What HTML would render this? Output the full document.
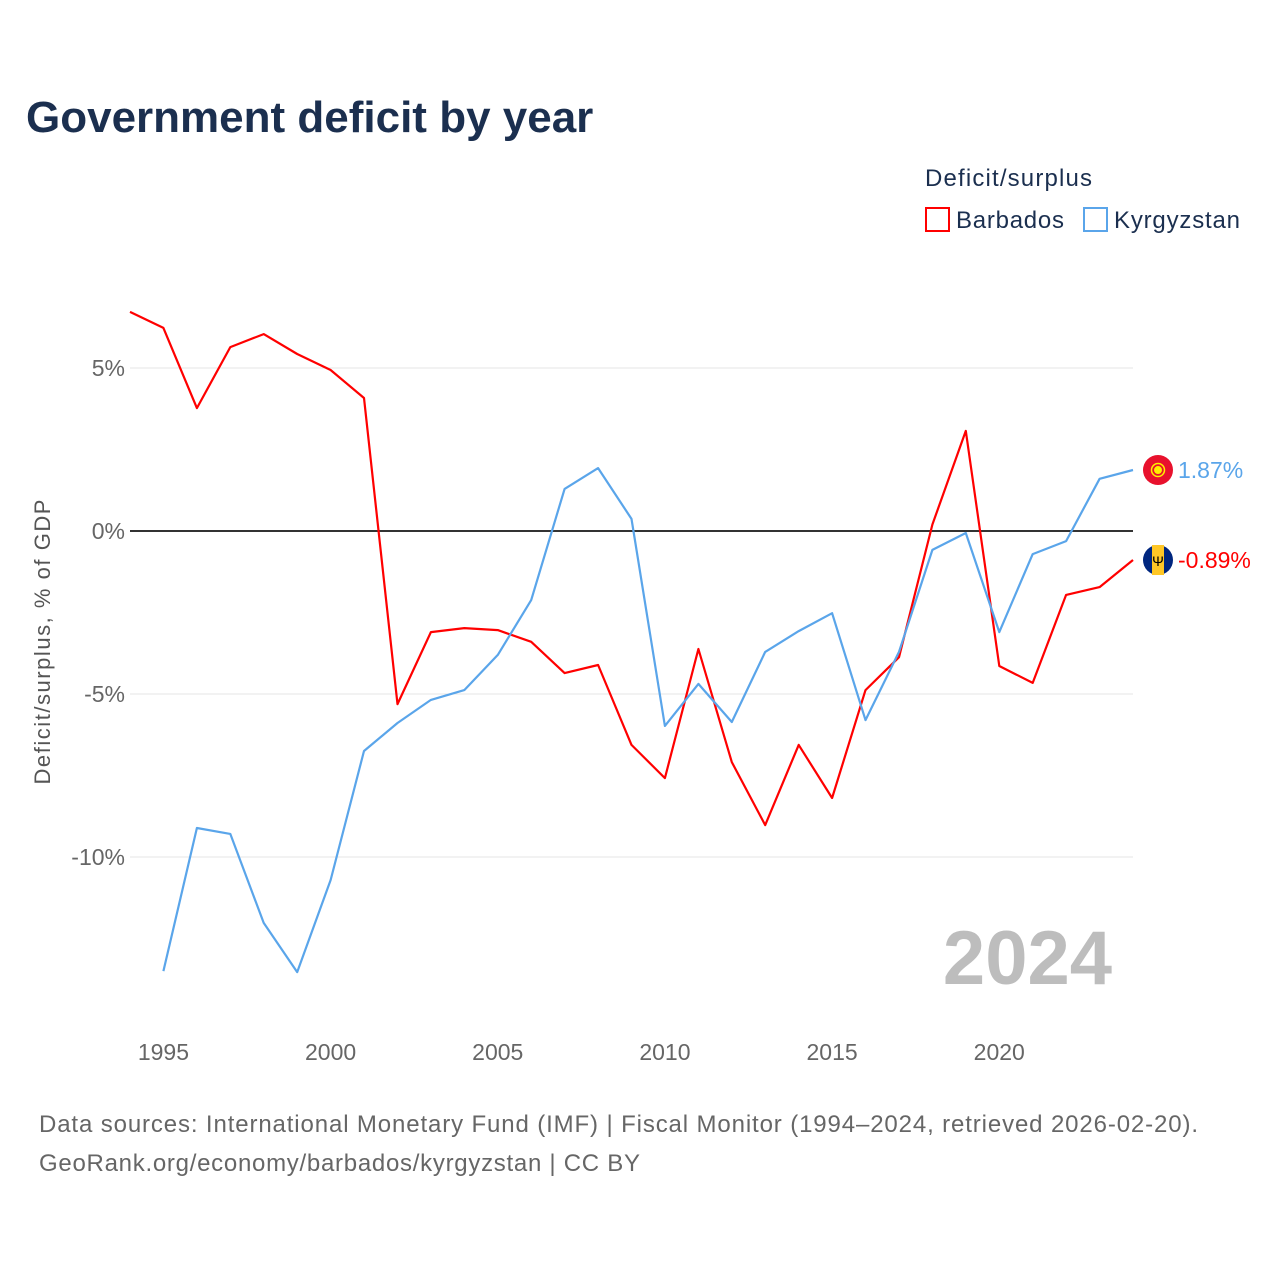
<!DOCTYPE html>
<html><head><meta charset="utf-8"><style>
body{margin:0;background:#fff;font-family:"Liberation Sans",sans-serif;}
svg text{font-family:"Liberation Sans",sans-serif;}
</style></head><body>
<svg width="1280" height="1280" viewBox="0 0 1280 1280" xmlns="http://www.w3.org/2000/svg">
<rect width="1280" height="1280" fill="#fff"/>
<text x="26" y="132" font-size="44" font-weight="bold" fill="#1b2f4f">Government deficit by year</text>
<text x="925" y="186" font-size="24" fill="#1b2f4f" textLength="167">Deficit/surplus</text>
<g><rect x="926" y="208" width="23" height="23" fill="none" stroke="#ff0000" stroke-width="2"/><text x="956" y="228" font-size="24" fill="#1b2f4f" textLength="108">Barbados</text></g>
<g><rect x="1084" y="208" width="23" height="23" fill="none" stroke="#5aa5ea" stroke-width="2"/><text x="1114" y="228" font-size="24" fill="#1b2f4f" textLength="126">Kyrgyzstan</text></g>
<g id="grid"></g>
<g id="axes"></g>
<g id="lines"></g>
<text transform="translate(50,642) rotate(-90)" text-anchor="middle" font-size="22" fill="#555" textLength="285">Deficit/surplus, % of GDP</text>
<text x="1112" y="984" text-anchor="end" font-size="76" font-weight="bold" fill="#bdbdbd">2024</text>
<text x="39" y="1132" font-size="24" fill="#666" textLength="1159">Data sources: International Monetary Fund (IMF) | Fiscal Monitor (1994–2024, retrieved 2026-02-20).</text>
<text x="39" y="1171" font-size="24" fill="#666" textLength="601">GeoRank.org/economy/barbados/kyrgyzstan | CC BY</text>
</svg>
<script>
const years=[1994,1995,1996,1997,1998,1999,2000,2001,2002,2003,2004,2005,2006,2007,2008,2009,2010,2011,2012,2013,2014,2015,2016,2017,2018,2019,2020,2021,2022,2023,2024];
const barbados=[6.72,6.23,3.77,5.64,6.04,5.43,4.94,4.08,-5.31,-3.10,-2.98,-3.04,-3.40,-4.36,-4.11,-6.56,-7.58,-3.62,-7.09,-9.02,-6.56,-8.19,-4.88,-3.87,0.2,3.07,-4.14,-4.66,-1.96,-1.72,-0.89];
const kyrgyzstan=[null,-13.5,-9.11,-9.29,-12.02,-13.53,-10.71,-6.75,-5.89,-5.18,-4.88,-3.80,-2.12,1.29,1.93,0.37,-5.98,-4.69,-5.86,-3.71,-3.07,-2.52,-5.80,-3.71,-0.58,-0.06,-3.10,-0.71,-0.31,1.60,1.87];
const yTicks=[5,0,-5,-10];
const yTickLabels=["5%","0%","-5%","-10%"];
const xTicks=[1995,2000,2005,2010,2015,2020];
const NS="http://www.w3.org/2000/svg";
const x=v=>130+(v-1994)*(1003/30);
const y=v=>531-v*32.6;
function mk(tag,attrs,parent){const e=document.createElementNS(NS,tag);for(const k in attrs)e.setAttribute(k,attrs[k]);parent.appendChild(e);return e;}
const grid=document.getElementById('grid'),axes=document.getElementById('axes'),lines=document.getElementById('lines');
yTicks.forEach((t,i)=>{
 const l=mk('line',{x1:130,x2:1133,y1:y(t),y2:y(t),stroke:t===0?'#333':'#e6e6e6','stroke-width':t===0?2:1},grid);
 
 
 const tx=mk('text',{x:125,y:y(t)+8,'text-anchor':'end','font-size':23,fill:'#666'},axes);
 tx.textContent=yTickLabels[i];
 
 
});
xTicks.forEach(t=>{
 const tx=mk('text',{x:x(t),y:1060,'text-anchor':'middle','font-size':23,fill:'#666'},axes);
 tx.textContent=t;
 
 
});
function path(vals,color,name){
 let d='';vals.forEach((v,i)=>{if(v===null)return;d+=(d?'L':'M')+x(years[i]).toFixed(1)+','+y(v).toFixed(1);});
 const p=mk('path',{d:d,fill:'none',stroke:color,'stroke-width':2.2,'stroke-linejoin':'round'},lines);
 
 
}
path(barbados,'#ff0000','barbados-line');
path(kyrgyzstan,'#5aa5ea','kyrgyzstan-line');
function endLabel(v,color,name,f1,f2){
 const cx=x(2024)+25,cy=y(v);
 const g=mk('g',{},lines);
 
 
 mk('circle',{cx:cx,cy:cy,r:15,fill:f1},g);
 if(f2==='bb'){mk('rect',{x:cx-6,y:cy-15,width:12,height:30,fill:'#ffc726'},g);mk('text',{x:cx,y:cy+6,'text-anchor':'middle','font-size':14,fill:'#000'},g).textContent='Ψ';}
 else{mk('circle',{cx:cx,cy:cy,r:4,fill:'#ffef00'},g);mk('circle',{cx:cx,cy:cy,r:6.5,fill:'none',stroke:'#ffef00','stroke-width':1.5},g);}
 const t=mk('text',{x:cx+20,y:cy+8,'font-size':23,fill:color},lines);
 t.textContent=v.toFixed(2)+'%';
 
 
}
endLabel(kyrgyzstan[30],'#5aa5ea','kyrgyzstan','#e8112d','kg');
endLabel(barbados[30],'#ff0000','barbados','#00267f','bb');
</script>
</body></html>
